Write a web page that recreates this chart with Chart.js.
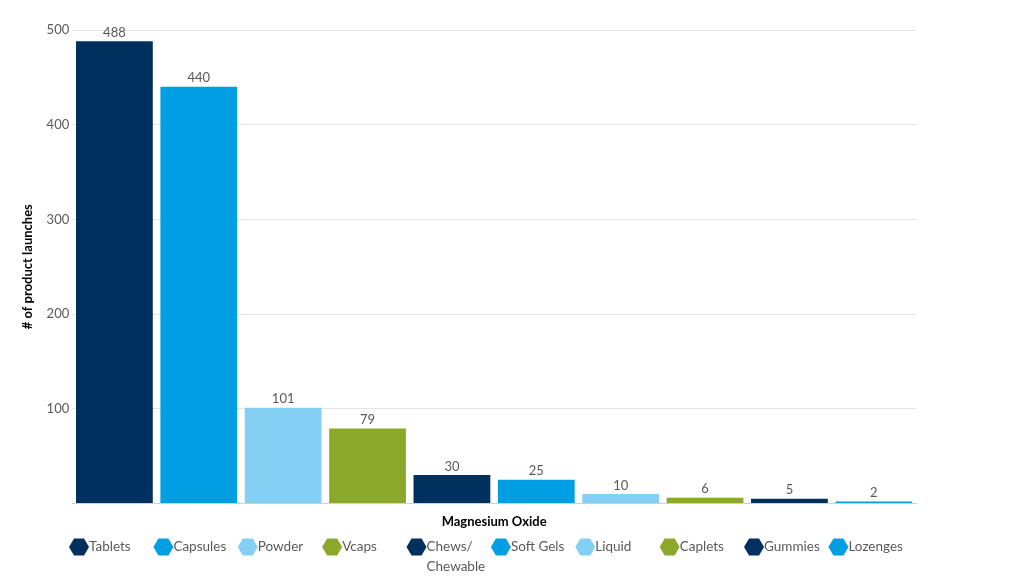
<!DOCTYPE html>
<html>
<head>
<meta charset="utf-8">
<script src="https://cdn.jsdelivr.net/npm/chart.js@4.4.1/dist/chart.umd.min.js"></script>
<style>
  html, body { margin: 0; padding: 0; background: #fff; }
  #wrap { width: 1024px; height: 576px; }
</style>
</head>
<body>
<div id="wrap"><canvas id="graphe"></canvas></div>
<script>
const categorie = ["Magnesium Oxide"];
const formes = ["Tablets", "Capsules", "Powder", "Vcaps", ["Chews/", "Chewable"], "Soft Gels", "Liquid", "Caplets", "Gummies", "Lozenges"];
const lancements = [488, 440, 101, 79, 30, 25, 10, 6, 5, 2];
const couleurs = ["#00305e", "#009fe3", "#84cff4", "#8ca82b", "#00305e", "#009fe3", "#84cff4", "#8ca82b", "#00305e", "#009fe3"];
const ticks_y = [0, 100, 200, 300, 400, 500];

const police = "Lato, 'Open Sans', sans-serif";
const gris = "#595959";

// valeurs au-dessus des barres + légende en colonnes sous les barres
const etiquettes = {
  id: "etiquettes",
  afterDatasetsDraw(chart) {
    let ctx = chart.ctx;
    ctx.save();
    ctx.font = "13px " + police;
    ctx.fillStyle = gris;
    ctx.textAlign = "center";
    ctx.textBaseline = "bottom";
    chart.data.datasets.forEach((ds, i) => {
      let barre = chart.getDatasetMeta(i).data[0];
      ctx.fillText(ds.data[0], barre.x, barre.y - 2);
    });
    ctx.restore();
  },
  afterDraw(chart) {
    let ctx = chart.ctx;
    ctx.save();
    ctx.font = "13.5px " + police;
    ctx.textBaseline = "middle";
    ctx.textAlign = "left";
    chart.data.datasets.forEach((ds, i) => {
      let barre = chart.getDatasetMeta(i).data[0];
      let cx = barre.x - barre.width / 2 + 3;
      let cy = 547;
      let w = 20, h = 17;
      ctx.fillStyle = ds.backgroundColor;
      ctx.beginPath();
      ctx.moveTo(cx - w / 2, cy);
      ctx.lineTo(cx - w / 4, cy - h / 2);
      ctx.lineTo(cx + w / 4, cy - h / 2);
      ctx.lineTo(cx + w / 2, cy);
      ctx.lineTo(cx + w / 4, cy + h / 2);
      ctx.lineTo(cx - w / 4, cy + h / 2);
      ctx.closePath();
      ctx.fill();
      ctx.fillStyle = gris;
      let lignes = Array.isArray(ds.label) ? ds.label : [ds.label];
      lignes.forEach((l, k) => ctx.fillText(l, cx + w / 2, cy + k * 20));
    });
    ctx.restore();
  }
};

let graph = document.getElementById("graphe");
let myChart = new Chart(graph, {
  type: "bar",
  plugins: [etiquettes],
  data: {
    labels: categorie,
    datasets: formes.map((f, i) => ({
      label: f,
      data: [lancements[i]],
      backgroundColor: couleurs[i],
      categoryPercentage: 1,
      barPercentage: 0.91,
    })),
  },
  options: {
    responsive: true,
    maintainAspectRatio: false,
    animation: false,
    layout: { padding: { left: 20, right: 108, top: 30, bottom: 42 } },
    plugins: {
      legend: { display: false },
      tooltip: { enabled: false },
    },
    scales: {
      x: {
        grid: { display: false },
        border: { color: "#d0d0d0" },
        ticks: { display: false },
        title: {
          display: true,
          text: categorie[0],
          color: "#000",
          font: { family: police, size: 13, weight: "bold" },
          padding: { top: 3, bottom: 4 },
        },
      },
      y: {
        min: 0,
        max: 500,
        afterBuildTicks: (axis) => { axis.ticks = ticks_y.map(v => ({ value: v })); },
        grid: { color: "#e4e4e4", drawTicks: false },
        border: { display: false },
        ticks: {
          color: gris,
          padding: 3,
          font: { family: police, size: 13 },
          callback: (v) => v === 0 ? "" : v,
        },
        title: {
          display: true,
          text: "# of product launches",
          color: "#000",
          font: { family: police, size: 13, weight: "bold" },
          padding: { top: 0, bottom: 8 },
        },
      },
    },
  },
});
</script>
</body>
</html>
